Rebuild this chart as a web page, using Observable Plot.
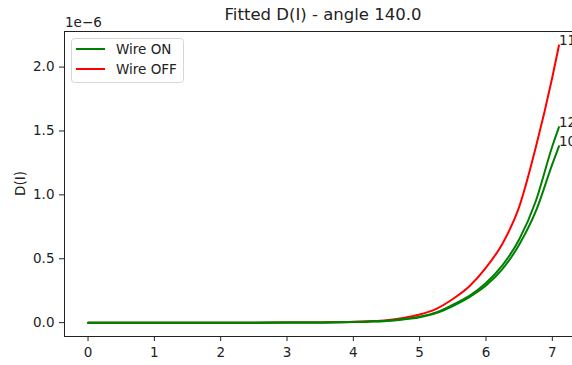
<!DOCTYPE html>
<html><head><meta charset="utf-8">
<script src="https://cdn.jsdelivr.net/npm/d3@7"></script>
<script src="https://cdn.jsdelivr.net/npm/@observablehq/plot@0.6"></script>
<style>
html,body{margin:0;padding:0;overflow:hidden;background:#fff;width:572px;height:365px}
#chart{position:relative;width:572px;height:365px;overflow:hidden}
#chart svg{display:block;max-width:none !important;width:582px;height:365px}
</style></head><body><div id="chart"></div>
<script>
// Current I (x) and fitted D(I) in units of 1e-6
const xs       = [0, 0.5, 1, 1.5, 2, 2.5, 3, 3.5, 4, 4.25, 4.5, 4.75, 5, 5.25, 5.5, 5.75, 6, 6.25, 6.5, 6.75, 7, 7.1];
const wireOff110 = [0, 0, 0, 0, 0, 0, 0.0005, 0.002, 0.006, 0.011, 0.019, 0.036, 0.063, 0.108, 0.185, 0.285, 0.43, 0.62, 0.905, 1.37, 1.92, 2.17];
const wireOn120  = [0, 0, 0, 0, 0, 0, 0.0004, 0.0015, 0.005, 0.009, 0.015, 0.028, 0.046, 0.08, 0.14, 0.21, 0.31, 0.45, 0.65, 0.95, 1.38, 1.53];
const wireOn100  = [0, 0, 0, 0, 0, 0, 0.0003, 0.0013, 0.004, 0.008, 0.013, 0.025, 0.042, 0.075, 0.13, 0.20, 0.29, 0.42, 0.61, 0.87, 1.24, 1.38];
const endLabels  = ["110", "120", "100"];
const xTicks = [0, 1, 2, 3, 4, 5, 6, 7];
const yTicks = [0, 0.5, 1.0, 1.5, 2.0];
const SCALE = 1e-6;
const title = "Fitted D(I) - angle 140.0";
const legendNames = ["Wire ON", "Wire OFF"];
const colors = {on: "green", off: "red"};

const series = [
  {vals: wireOff110, color: colors.off, label: endLabels[0]},
  {vals: wireOn120,  color: colors.on,  label: endLabels[1]},
  {vals: wireOn100,  color: colors.on,  label: endLabels[2]}
];
const data = series.map(s => xs.map((x, i) => ({x, y: s.vals[i] * SCALE})));
const last = xs.length - 1;
const ends = series.map(s => ({x: xs[last], y: s.vals[last] * SCALE, label: s.label}));

const xExt = [0, xs[last]], xPad = (xExt[1] - xExt[0]) * 0.05;
const yMax = d3.max(series, s => d3.max(s.vals)) * SCALE, yPad = yMax * 0.05;

const ink = "#222";
const plot = Plot.plot({
  width: 582, height: 365,
  marginLeft: 64, marginRight: 0, marginTop: 31, marginBottom: 29,
  style: {fontFamily: "DejaVu Sans", fontSize: "13.5px", color: ink, background: "white", overflow: "hidden"},
  x: {domain: [xExt[0] - xPad, xExt[1] + xPad]},
  y: {domain: [-yPad, yMax + yPad]},
  marks: [
    Plot.axisX({ticks: xTicks, tickFormat: d => String(d), tickSize: 5, tickPadding: 6, label: null, fontSize: 13.5}),
    Plot.axisY({ticks: yTicks.map(t => t * SCALE), tickFormat: d => (d / SCALE).toFixed(1), tickSize: 5, tickPadding: 5, label: null, fontSize: 13.5}),
    ...data.map((d, k) => Plot.line(d, {x: "x", y: "y", stroke: series[k].color, strokeWidth: 2, curve: "monotone-x"})),
    Plot.text(ends, {x: "x", y: "y", text: "label", textAnchor: "start", lineAnchor: "bottom", fill: ink, fontSize: 13.5}),
    Plot.frame({stroke: ink, strokeWidth: 1})
  ]
});
document.getElementById("chart").appendChild(plot);

const svg = d3.select(plot);
const fx0 = 64, fx1 = 582, fy0 = 31, fy1 = 336;
// title
svg.append("text").attr("x", (fx0 + fx1) / 2).attr("y", fy0 - 11)
  .attr("text-anchor", "middle").attr("font-size", 16.5).attr("fill", ink).text(title);
// offset text
svg.append("text").attr("x", fx0 + 1).attr("y", fy0 - 4).attr("text-anchor", "start")
  .attr("font-size", 13.5).attr("fill", ink).text("1e\u22126");
// y label
svg.append("text").attr("transform", `translate(20,${(fy0 + fy1) / 2}) rotate(-90)`)
  .attr("text-anchor", "middle").attr("dy", "0.35em").attr("font-size", 13.5).attr("fill", ink).text("D(I)");
// legend
const lg = svg.append("g").attr("text-anchor", "start");
lg.append("rect").attr("x", 71.5).attr("y", 38.5).attr("width", 112).attr("height", 44).attr("rx", 3)
  .attr("fill", "white").attr("fill-opacity", 0.8).attr("stroke", "#d6d6d6");
[[legendNames[0], colors.on, 49], [legendNames[1], colors.off, 69]].forEach(([name, c, y]) => {
  lg.append("line").attr("x1", 76).attr("x2", 105).attr("y1", y).attr("y2", y).attr("stroke", c).attr("stroke-width", 2);
  lg.append("text").attr("x", 116).attr("y", y).attr("dy", "0.35em").attr("text-anchor", "start")
    .attr("font-size", 13.5).attr("fill", ink).text(name);
});
</script></body></html>
